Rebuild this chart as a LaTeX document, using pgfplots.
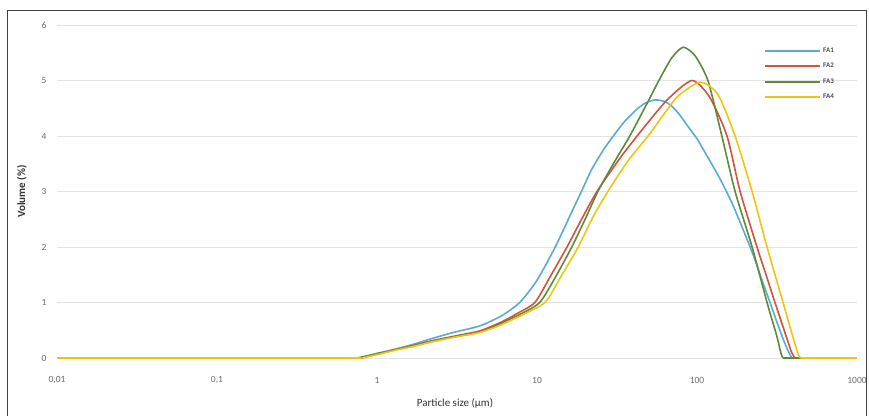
\documentclass[border=0pt]{standalone}
\usepackage{fontspec}
\setmainfont{Carlito}
\usepackage{pgfplots}
\pgfplotsset{compat=1.18}

\definecolor{cFA1}{HTML}{5AAAD4}
\definecolor{cFA2}{HTML}{D4533A}
\definecolor{cFA3}{HTML}{5E8B3A}
\definecolor{cFA4}{HTML}{F2C40F}
\definecolor{gridc}{HTML}{E3E3E3}
\definecolor{tickc}{HTML}{6A6A6A}

\pgfplotsset{
  psd/.style={line width=1.6pt, smooth, tension=0.4},
  flat/.style={line width=1.6pt, sharp plot, forget plot},
}

\begin{document}
\begin{tikzpicture}
\useasboundingbox (-57pt,-57pt) rectangle (812pt,358pt);
\begin{axis}[
  scale only axis,
  width=800pt, height=333pt,
  xmode=log,
  xmin=0.01, xmax=1000,
  ymin=0, ymax=6,
  clip=false,
  axis line style={draw=none},
  major tick length=0pt, minor tick length=0pt,
  tick style={draw=none},
  xtick={0.01,0.1,1,10,100,1000},
  xticklabels={{0,01},{0,1},1,10,100,1000},
  ytick={0,1,2,3,4,5,6},
  yticklabels={0,1,2,3,4,5,6},
  ymajorgrids,
  grid style={gridc, line width=0.8pt},
  tick label style={font=\fontsize{9.5}{11}\selectfont, text=tickc},
  xticklabel style={anchor=center, yshift=-22pt},
  yticklabel style={xshift=-7pt},
  xlabel={Particle size (µm)},
  ylabel={\bfseries Volume (\%)},
  label style={font=\fontsize{11}{13}\selectfont, text=black!80},
  xlabel style={at={(axis description cs:0.4975,-0.135)}, anchor=center},
  ylabel style={at={(axis description cs:-0.044,0.5)}, anchor=center},
  legend style={draw=none, fill=none, at={(rel axis cs:0.88,0.945)}, anchor=north west,
    font=\fontsize{7}{8}\selectfont\bfseries, row sep=5.5pt, text=black!70},
  legend cell align=left,
  legend image code/.code={\draw[#1, sharp plot, line width=2pt] (0pt,0pt) -- (55pt,0pt);},
]
% FA1
\addplot[cFA1, flat] coordinates {(0.01,0) (0.8,0)};
\addplot[cFA1, psd] coordinates {
(0.8,0) (1,0.08) (1.3,0.16) (1.7,0.25) (2.2,0.35) (3,0.46) (4.4,0.58) (6,0.76)
(7.8,1.0) (10,1.4) (13,2.0) (16,2.55) (18.6,2.95) (22,3.4) (26,3.75) (30,4.0) (35,4.25)
(42,4.48) (48,4.6) (55,4.65) (63,4.62) (70,4.53) (78,4.38) (88,4.17) (100,3.95)
(115,3.65) (138,3.25) (165,2.8) (195,2.3) (225,1.85) (255,1.4) (286,1.0) (320,0.6)
(350,0.3) (375,0.1) (392,0)};
\addlegendentry{FA1}
\addplot[cFA1, flat] coordinates {(392,0) (1000,0)};
% FA2
\addplot[cFA2, flat] coordinates {(0.01,0) (0.8,0)};
\addplot[cFA2, psd] coordinates {
(0.8,0) (1,0.07) (1.3,0.15) (1.7,0.23) (2.2,0.31) (3,0.39) (4.4,0.49) (6,0.65) (7.5,0.8)
(9.7,1.0) (12,1.45) (15.4,2.0) (19,2.5) (23.7,3.0) (33,3.6) (45,4.1) (65,4.65) (93,5.0)
(120,4.7) (154,4.0) (186,3.0) (237,2.0) (270,1.5) (307,1.0) (360,0.4) (390,0.1) (410,0)};
\addlegendentry{FA2}
\addplot[cFA2, flat] coordinates {(410,0) (1000,0)};
% FA3
\addplot[cFA3, flat] coordinates {(0.01,0) (0.75,0)};
\addplot[cFA3, psd] coordinates {
(0.75,0) (1,0.08) (1.3,0.15) (1.7,0.22) (2.2,0.3) (3,0.38) (4.4,0.47) (6,0.63) (8,0.8)
(10.4,1.0) (13,1.45) (16.5,2.0) (20,2.5) (24,3.0) (30,3.5) (38,4.0) (48,4.55) (59,5.05)
(70,5.42) (82,5.6) (97,5.45) (117,5.0) (143,4.0) (173,3.0) (221,2.0) (274,1.0) (315,0.4)
(335,0.08) (345,0)};
\addlegendentry{FA3}
\addplot[cFA3, flat] coordinates {(345,0) (1000,0)};
% FA4
\addplot[cFA4, flat] coordinates {(0.01,0) (0.8,0)};
\addplot[cFA4, psd] coordinates {
(0.8,0) (1,0.06) (1.3,0.14) (1.7,0.21) (2.2,0.29) (3,0.37) (4.4,0.46) (6,0.6) (8,0.77)
(11.2,1.0) (14,1.45) (18.1,2.0) (22,2.5) (27.7,3.0) (37,3.55) (51,4.05) (75,4.7) (105,4.97)
(135,4.75) (173,4.0) (221,3.0) (274,2.0) (345,1.0) (400,0.35) (430,0.06) (445,0)};
\addlegendentry{FA4}
\addplot[cFA4, flat] coordinates {(445,0) (1000,0)};
\end{axis}
\draw[black!75, line width=0.9pt] (-50pt,-65pt) rectangle (809pt,348pt);
\end{tikzpicture}
\end{document}
